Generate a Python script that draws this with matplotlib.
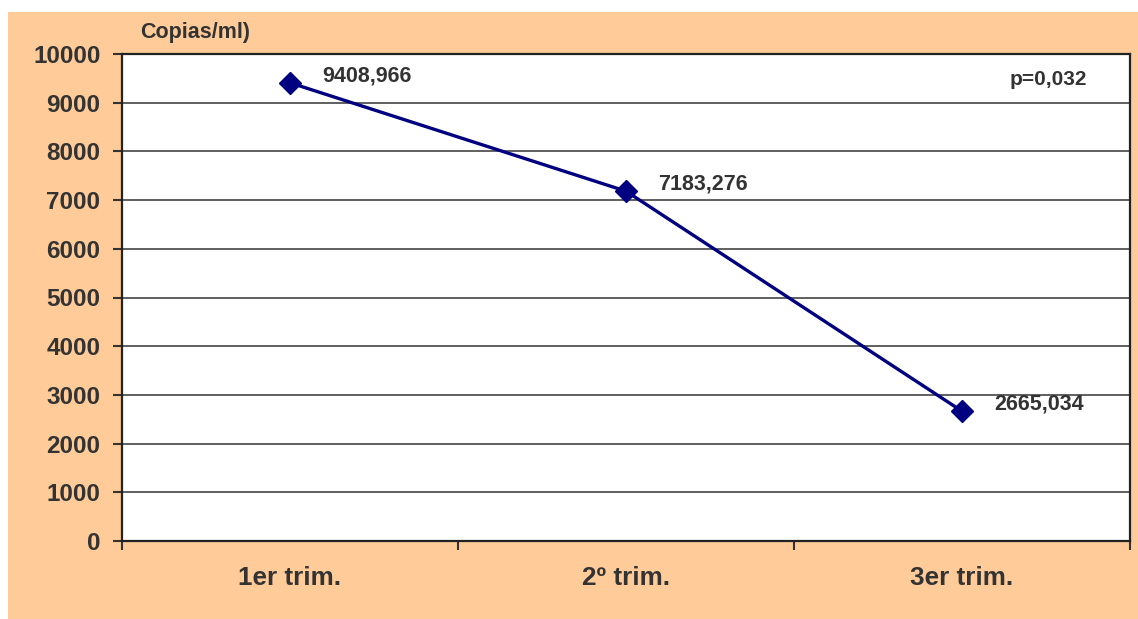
import matplotlib.pyplot as plt
from matplotlib.patches import Rectangle

categories = ["1er trim.", "2º trim.", "3er trim."]
values = [9408.966, 7183.276, 2665.034]
value_labels = ["9408,966", "7183,276", "2665,034"]
y_ticks = [0, 1000, 2000, 3000, 4000, 5000, 6000, 7000, 8000, 9000, 10000]

plt.rcParams["font.family"] = ["Liberation Sans", "DejaVu Sans"]
plt.rcParams["font.weight"] = "bold"

text_color = "#333333"
line_color = "#000080"

fig = plt.figure(figsize=(11.38, 6.19), dpi=100)
fig.patch.set_facecolor("white")
# orange chart area, behind the axes
fig.patches.append(Rectangle((8 / 1138, 0), 1, (619 - 12) / 619,
                             transform=fig.transFigure, facecolor="#FFCC99",
                             edgecolor="none", zorder=-10))

ax = fig.add_axes([122 / 1138, 78 / 619, 1008 / 1138, 487 / 619])
ax.set_facecolor("white")

x = [i + 0.5 for i in range(len(categories))]
ax.plot(x, values, color=line_color, lw=2.4, marker="D", ms=11,
        markerfacecolor=line_color, markeredgecolor=line_color, zorder=3)

for xi, v, lab in zip(x, values, value_labels):
    ax.annotate(lab, (xi, v), xytext=(23, 5), textcoords="offset points",
                ha="left", va="center", fontsize=15.5, fontweight="bold",
                color=text_color)

ax.set_xlim(0, 3)
ax.set_ylim(0, 10000)
ax.set_yticks(y_ticks)
ax.set_yticklabels([str(t) for t in y_ticks])
ax.grid(axis="y", color="#444444", lw=1.2)
ax.set_axisbelow(True)

ax.set_xticks([0, 1, 2, 3])
ax.set_xticklabels([])
ax.set_xticks(x, minor=True)
ax.set_xticklabels(categories, minor=True)
ax.tick_params(axis="x", which="minor", length=0, pad=18, labelsize=18.8,
               labelcolor=text_color)
ax.tick_params(axis="x", which="major", length=6.5, width=1.5, color="#333333")
ax.tick_params(axis="y", length=6.5, width=1.5, color="#333333", pad=9,
               labelsize=17.5, labelcolor=text_color)

for s in ax.spines.values():
    s.set_color("#222222")
    s.set_linewidth(1.6)

ax.text(0.018, 1.045, "Copias/ml)", transform=ax.transAxes, fontsize=15.5,
        fontweight="bold", color=text_color, ha="left", va="center")
ax.text(0.957, 0.947, "p=0,032", transform=ax.transAxes, fontsize=15,
        fontweight="bold", color=text_color, ha="right", va="center")

fig.savefig("out.png", dpi=100)
